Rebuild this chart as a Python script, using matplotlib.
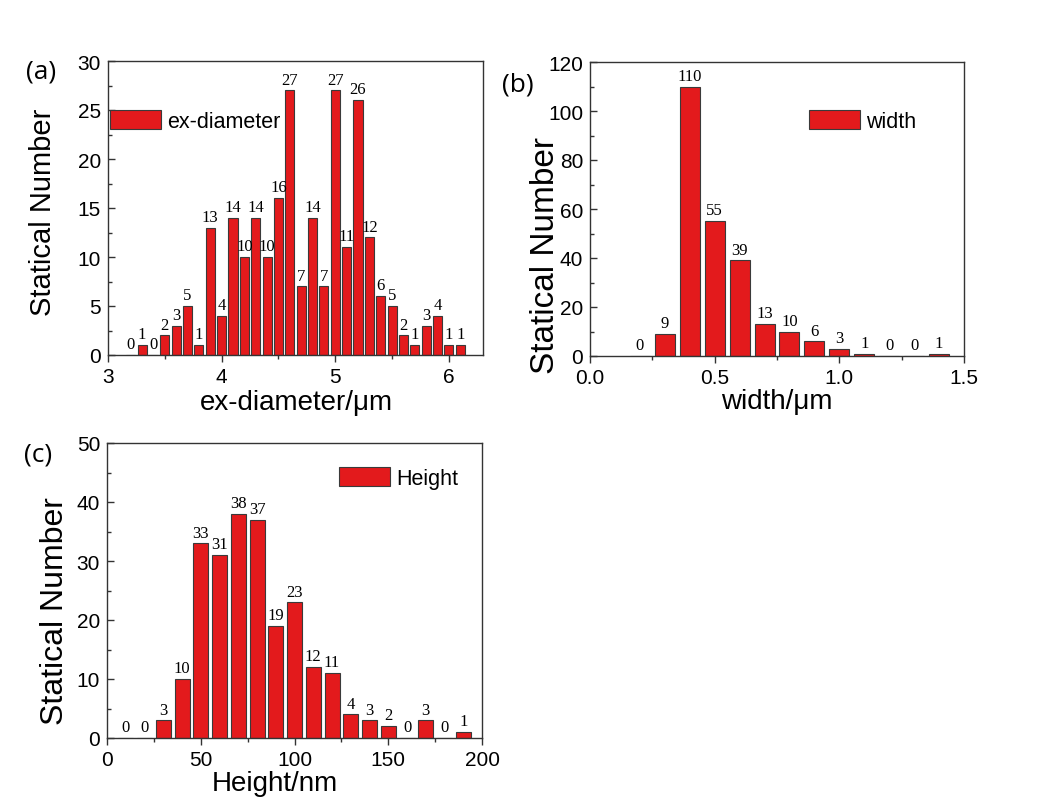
import matplotlib
matplotlib.use("Agg")
import matplotlib.pyplot as plt
from matplotlib.ticker import MultipleLocator, FormatStrFormatter

plt.rcParams.update({
    'font.family': ['Liberation Sans', 'DejaVu Sans'],
    'axes.edgecolor': '#333333',
    'axes.linewidth': 1.0,
    'xtick.color': '#333333',
    'ytick.color': '#333333',
    'xtick.labelcolor': 'black',
    'ytick.labelcolor': 'black',
})

# ---- data ----
diam_bins = [3.2, 3.3, 3.4, 3.5, 3.6, 3.7, 3.8, 3.9, 4.0, 4.1, 4.2, 4.3, 4.4, 4.5, 4.6,
             4.7, 4.8, 4.9, 5.0, 5.1, 5.2, 5.3, 5.4, 5.5, 5.6, 5.7, 5.8, 5.9, 6.0, 6.1]
diam_counts = [0, 1, 0, 2, 3, 5, 1, 13, 4, 14, 10, 14, 10, 16, 27,
               7, 14, 7, 27, 11, 26, 12, 6, 5, 2, 1, 3, 4, 1, 1]

width_bins = [0.2, 0.3, 0.4, 0.5, 0.6, 0.7, 0.8, 0.9, 1.0, 1.1, 1.2, 1.3, 1.4]
width_counts = [0, 9, 110, 55, 39, 13, 10, 6, 3, 1, 0, 0, 1]

height_bins = [10, 20, 30, 40, 50, 60, 70, 80, 90, 100, 110, 120, 130, 140, 150,
               160, 170, 180, 190]
height_counts = [0, 0, 3, 10, 33, 31, 38, 37, 19, 23, 12, 11, 4, 3, 2, 0, 3, 0, 1]

BAR_RED = '#E31A1C'
EDGE = '#3a3a3a'
W, H = 1037, 804

fig = plt.figure(figsize=(W / 100, H / 100), dpi=100)


def px_axes(left, top, right, bottom):
    return fig.add_axes([left / W, 1 - bottom / H, (right - left) / W, (bottom - top) / H])


def style(ax, xlim, ylim, xmaj, xmin, ymaj, ymin, xfmt):
    ax.set_xlim(*xlim)
    ax.set_ylim(*ylim)
    ax.xaxis.set_major_locator(MultipleLocator(xmaj))
    ax.xaxis.set_minor_locator(MultipleLocator(xmin))
    ax.yaxis.set_major_locator(MultipleLocator(ymaj))
    ax.yaxis.set_minor_locator(MultipleLocator(ymin))
    ax.xaxis.set_major_formatter(FormatStrFormatter(xfmt))
    ax.tick_params(axis='x', which='major', direction='out', length=5, width=1, labelsize=15, pad=4)
    ax.tick_params(axis='x', which='minor', direction='out', length=3, width=1)
    ax.tick_params(axis='y', which='major', direction='in', length=5, width=1, labelsize=15, pad=5)
    ax.tick_params(axis='y', which='minor', direction='in', length=3, width=1)


def draw(ax, bins, counts, width, label, leg_xy):
    bars = ax.bar(bins, counts, width=width, color=BAR_RED, edgecolor=EDGE,
                  linewidth=0.8, label=label)
    ax.bar_label(bars, labels=[str(c) for c in counts], padding=2,
                 fontfamily='Liberation Serif', fontsize=12)
    fig.legend(handles=[bars], labels=[label], loc='upper left',
               bbox_to_anchor=(leg_xy[0] / W, 1 - leg_xy[1] / H),
               frameon=False, borderpad=0, borderaxespad=0,
               handlelength=2.35, handleheight=1.0, handletextpad=0.3,
               prop={'family': 'Liberation Sans', 'size': 15.5})


# (a) ex-diameter
ax1 = px_axes(108, 62, 483, 356)
draw(ax1, diam_bins, diam_counts, 0.08, 'ex-diameter', (110, 111))
style(ax1, (3, 6.3), (0, 30), 1, 0.5, 5, 2.5, '%d')

# (b) width
ax2 = px_axes(590, 63, 964, 357)
draw(ax2, width_bins, width_counts, 0.08, 'width', (809, 111))
style(ax2, (0, 1.5), (0, 120), 0.5, 0.25, 20, 10, '%.1f')

# (c) Height
ax3 = px_axes(107, 444, 482, 739)
draw(ax3, height_bins, height_counts, 8, 'Height', (339, 468))
style(ax3, (0, 200), (0, 50), 50, 25, 10, 5, '%d')

# axis titles placed like the reference
fig.text(43 / W, 1 - 212 / H, 'Statical Number', rotation=90, ha='center', va='center', fontsize=21)
fig.text(545 / W, 1 - 255 / H, 'Statical Number', rotation=90, ha='center', va='center', fontsize=24)
fig.text(55 / W, 1 - 611 / H, 'Statical Number', rotation=90, ha='center', va='center', fontsize=23)

fig.text(296 / W, 1 - 403 / H, 'ex-diameter/\u03bcm', ha='center', va='center', fontsize=20)
fig.text(777 / W, 1 - 402 / H, 'width/\u03bcm', ha='center', va='center', fontsize=20)
fig.text(275 / W, 1 - 784 / H, 'Height/nm', ha='center', va='center', fontsize=20)

for lbl, (x, y) in {'(a)': (41, 72), '(b)': (518, 85), '(c)': (38, 455)}.items():
    fig.text(x / W, 1 - y / H, lbl, ha='center', va='center', fontsize=19,
             fontfamily=['Open Sans', 'DejaVu Sans'])

fig.savefig('out.png', dpi=100)
